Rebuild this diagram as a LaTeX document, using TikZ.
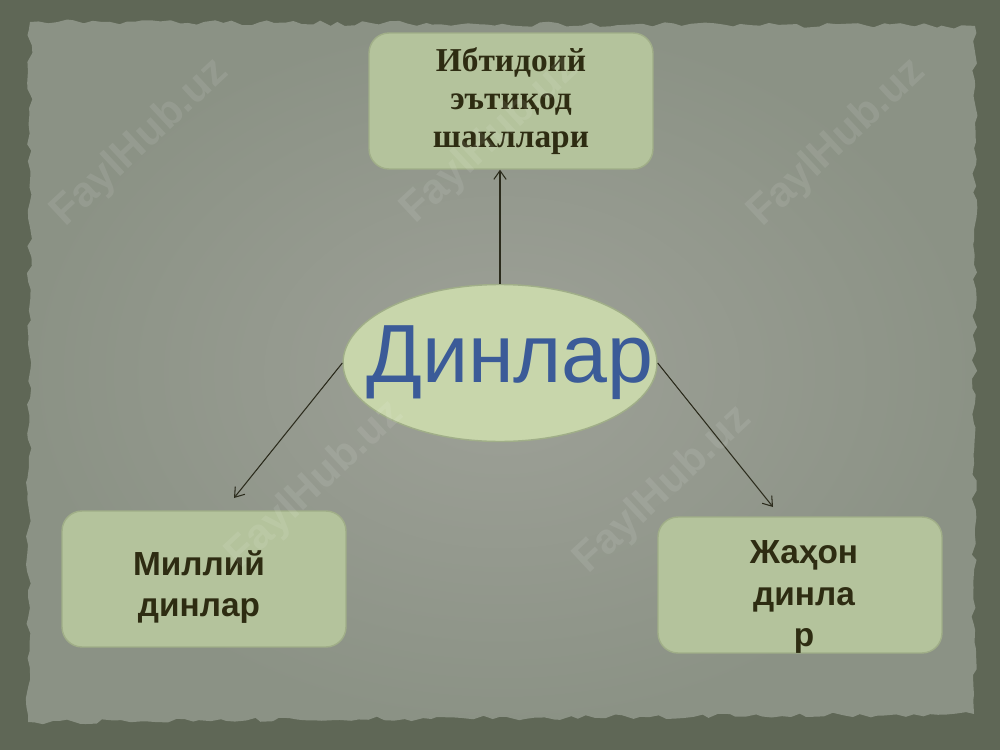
\documentclass[tikz,border=0pt]{standalone}
\usepackage{fontspec}
\setmainfont{Liberation Serif}
\setsansfont{Liberation Sans}
\usetikzlibrary{shapes.geometric, decorations.pathmorphing, arrows.meta}
\definecolor{bgdark}{HTML}{5F6756}
\definecolor{paperlight}{HTML}{9EA198}
\definecolor{paperdark}{HTML}{8B9285}
\definecolor{boxgreen}{HTML}{B4C39C}
\definecolor{ellgreen}{HTML}{C8D6AB}
\definecolor{boxedge}{HTML}{A0AE88}
\definecolor{textdark}{HTML}{2E2C12}
\definecolor{dinblue}{HTML}{3B5B98}
\definecolor{arrowcol}{HTML}{2B2B1C}
\begin{document}
\begin{tikzpicture}[x=0.02cm, y=-0.02cm,
    boxstyle/.style={rectangle, rounded corners=0.4cm, minimum width=5.68cm, minimum height=2.72cm, fill=boxgreen, draw=boxedge, line width=0.8pt, text=textdark, align=center},
    ellstyle/.style={ellipse, minimum width=6.28cm, minimum height=3.14cm, fill=ellgreen, draw=boxedge, line width=0.8pt, inner sep=0pt},
    boxfont/.style={font=\sffamily\bfseries\fontsize{19}{23.5}\selectfont, text=textdark, align=center},
    arrowstyle/.style={-{Straight Barb[length=5pt, width=7pt]}, line width=0.6pt, draw=arrowcol},
    markstyle/.style={font=\sffamily\bfseries\fontsize{24}{24}\selectfont, text=white, opacity=0.09, rotate=43}
]
    \useasboundingbox (0,0) rectangle (1000,750);
    % background and paper
    \fill[bgdark] (0,0) rectangle (1000,750);
    \pgfmathsetseed{7}
    \shade[inner color=paperlight, outer color=paperdark, decorate, decoration={random steps, segment length=5pt, amplitude=1.5pt}]
        (30,22) -- (975,26) -- (974,714) -- (28,722) -- cycle;

    \node[boxstyle, font=\rmfamily\bfseries\fontsize{19}{21.8}\selectfont] at (511,101) (ibt) {Ибтидоий\\эътиқод\\шакллари};
    \node[boxstyle, label={[boxfont, xshift=-0.1cm, yshift=-0.16cm]center:Миллий\\динлар}] at (204,579) (mil) {};
    \node[boxstyle, label={[boxfont, xshift=0.08cm, yshift=-0.24cm]center:Жаҳон\\динла\\р}] at (800,585) (jah) {};
    \node[ellstyle, label={[font=\sffamily\fontsize{47}{47}\selectfont, text=dinblue, xshift=0.2cm]center:Динлар}] at (500,363) (din) {};

    \coordinate (milTip) at (234,498);
    \coordinate (jahTip) at (773,507);
    \draw[arrowstyle] (din.north) -- (din.north |- ibt.south);
    \draw[arrowstyle] (din.west) -- (milTip);
    \draw[arrowstyle] (din.east) -- (jahTip);

    % watermarks
    \node[markstyle] at (140,143) (wm1) {FaylHub.uz};
    \node[markstyle] at (490,140) (wm2) {FaylHub.uz};
    \node[markstyle] at (837,143) (wm3) {FaylHub.uz};
    \node[markstyle] at (315,485) (wm4) {FaylHub.uz};
    \node[markstyle] at (663,490) (wm5) {FaylHub.uz};
\end{tikzpicture}
\end{document}
